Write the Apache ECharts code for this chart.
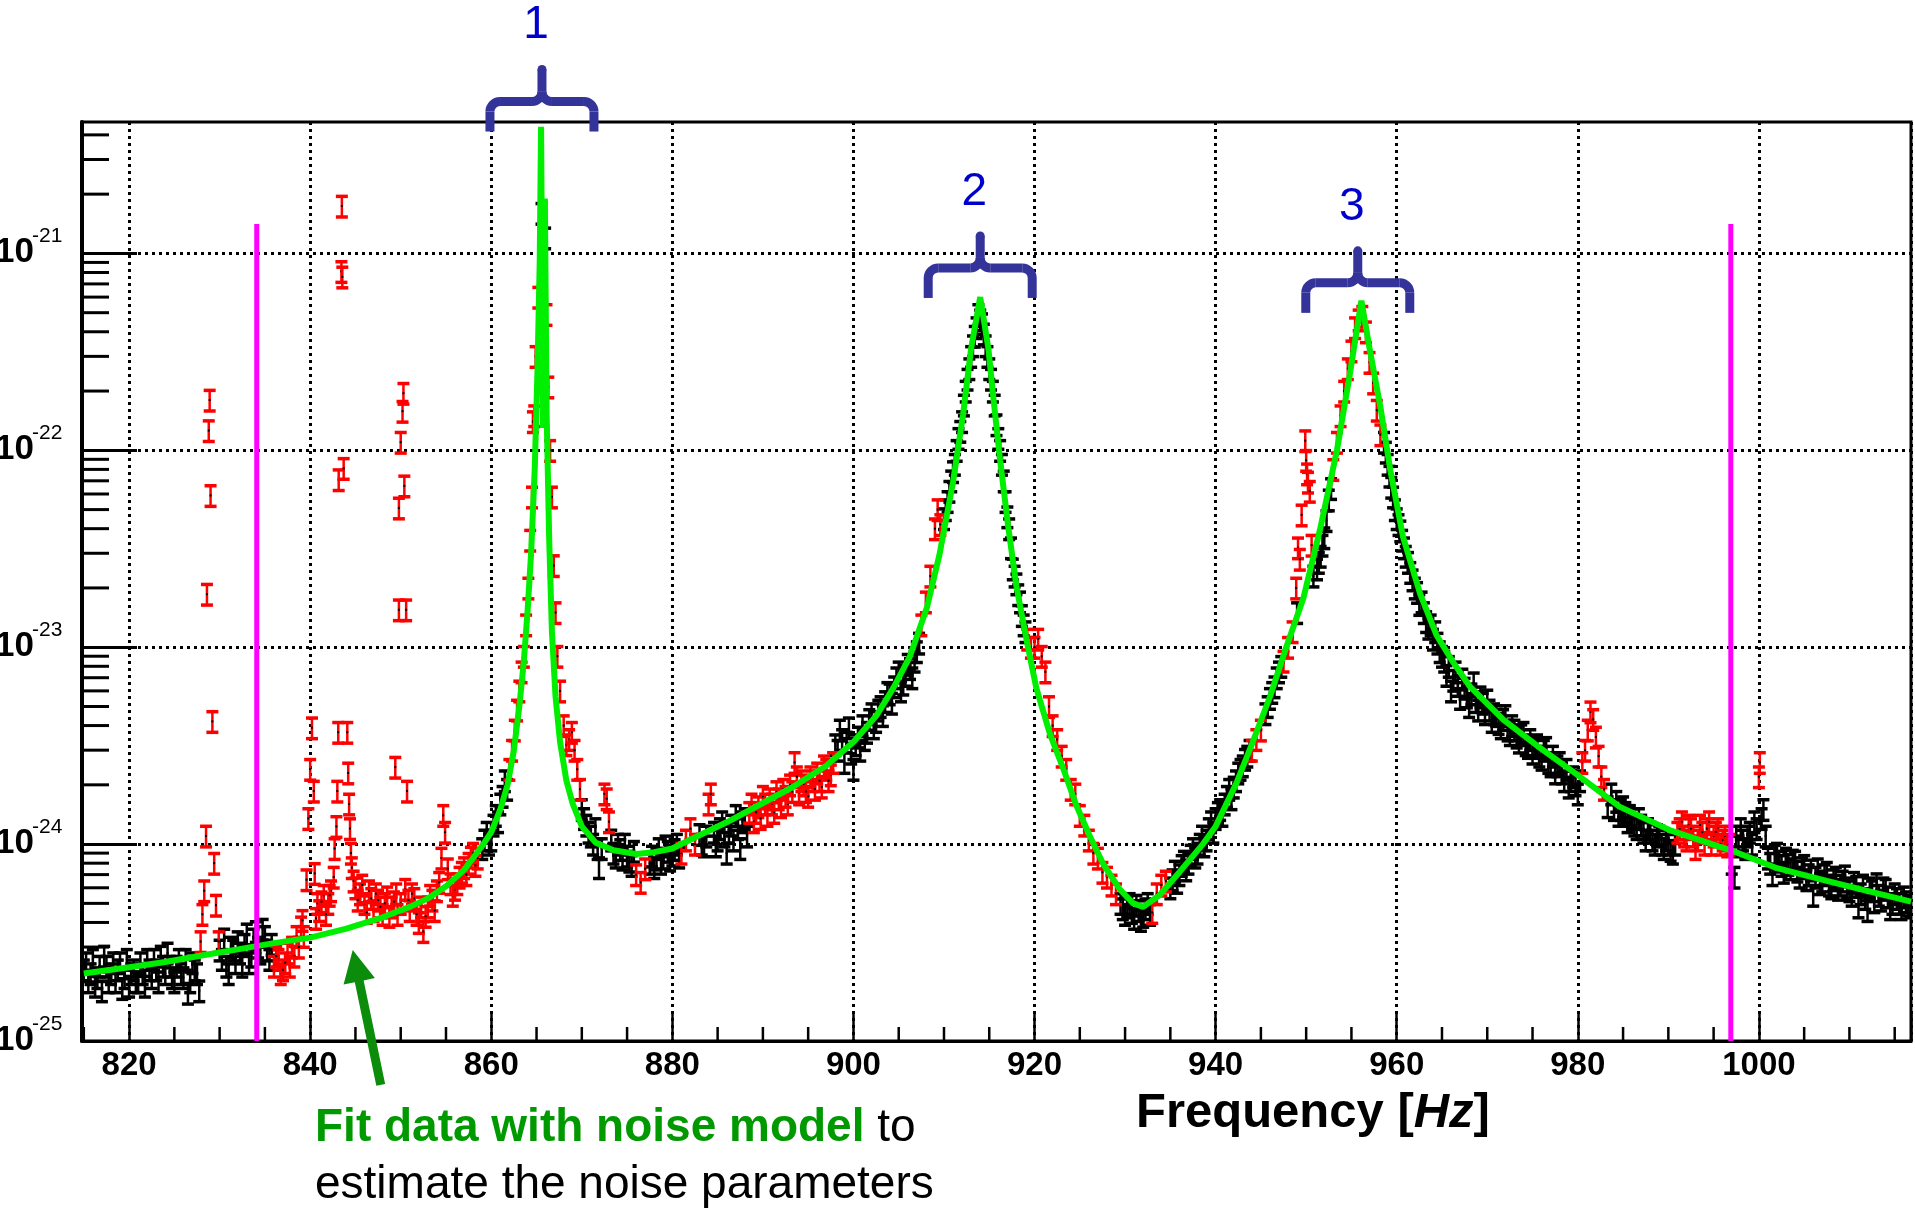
<!DOCTYPE html>
<html>
<head>
<meta charset="utf-8">
<script src="https://cdn.jsdelivr.net/npm/echarts@6/dist/echarts.min.js"></script>
<style>
html,body{margin:0;padding:0;background:#fff;}
#chart{width:1915px;height:1209px;}
</style>
</head>
<body>
<div id="chart"></div>
<script>
// ---------------- data ----------------
const xMin = 814.8, xMax = 1016.8;          // Frequency axis range [Hz]
const yMin = 1e-25, yMax = 4.65e-21;        // PSD axis range (log)
const xTickLabels = [820, 840, 860, 880, 900, 920, 940, 960, 980, 1000];
const yTickLabels = [1e-25, 1e-24, 1e-23, 1e-22, 1e-21];
const relError = 0.12;                      // relative size of the error bars

// green fitted noise model
const fitCurve = [
[815.0,2.2e-25],[818.0,2.3e-25],[820.0,2.37e-25],[824.0,2.52e-25],[828.0,2.72e-25],[832.0,2.92e-25],[836.0,3.14e-25],[840.0,3.35e-25],[844.0,3.72e-25],[848.0,4.25e-25],[851.0,4.8e-25],[853.0,5.3e-25],[855.0,6.1e-25],[857.0,7.4e-25],[858.0,8.5e-25],[859.0,9.8e-25],[860.0,1.15e-24],[861.0,1.5e-24],[861.8,2.0e-24],[862.5,3.0e-24],[863.1,5.0e-24],[863.6,8.5e-24],[864.0,1.5e-23],[864.4,3.0e-23],[864.8,8.0e-23],[865.1,2.5e-22],[865.35,9.0e-22],[865.5,4.4e-21],[865.72,1.3e-22],[865.92,1.9e-21],[866.12,1.5e-22],[866.4,3.5e-23],[866.7,1.2e-23],[867.1,5.6e-24],[867.6,3.3e-24],[868.3,2.1e-24],[869.0,1.6e-24],[870.0,1.23e-24],[871.5,1.02e-24],[873.5,9.3e-25],[876.0,8.9e-25],[878.0,9.1e-25],[880.0,9.5e-25],[882.3,1.07e-24],[886.0,1.29e-24],[889.6,1.58e-24],[893.3,1.95e-24],[897.0,2.5e-24],[900.0,3.3e-24],[902.5,4.47e-24],[904.4,6.2e-24],[906.2,8.9e-24],[908.1,1.58e-23],[909.5,2.95e-23],[911.0,6.9e-23],[912.1,1.51e-22],[913.0,3.3e-22],[914.0,6.0e-22],[914.9,3.3e-22],[915.4,1.95e-22],[916.2,8.9e-23],[917.1,4.07e-23],[918.0,2.04e-23],[919.1,1.1e-23],[920.2,6.2e-24],[921.7,3.63e-24],[923.2,2.4e-24],[924.6,1.58e-24],[926.1,1.1e-24],[927.6,7.9e-25],[929.4,5.9e-25],[930.9,5.0e-25],[932.0,4.8e-25],[933.8,5.5e-25],[936.0,7.2e-25],[938.6,1.0e-24],[940.0,1.23e-24],[942.3,2.04e-24],[944.1,3.3e-24],[946.0,5.6e-24],[947.8,1.0e-23],[949.7,1.78e-23],[951.5,3.9e-23],[953.4,1.0e-22],[954.8,2.4e-22],[956.1,5.75e-22],[957.0,3.3e-22],[958.2,1.66e-22],[959.3,7.9e-23],[960.7,3.63e-23],[962.6,1.86e-23],[964.4,1.15e-23],[966.3,8.3e-24],[968.1,6.3e-24],[971.8,4.27e-24],[975.5,3.16e-24],[980.0,2.24e-24],[984.6,1.55e-24],[990.3,1.17e-24],[996.9,9.3e-25],[1001.8,7.6e-25],[1007.5,6.5e-25],[1013.2,5.6e-25],[1016.8,5.1e-25]
];

// black data points (used in the fit)
const blackPoints = [
[815.0,2.3e-25],[815.5,2.0e-25],[816.0,2.6e-25],[816.5,2.1e-25],[817.0,1.8e-25],[817.5,2.4e-25],[818.0,2.2e-25],[818.5,2.0e-25],[819.0,2.5e-25],[819.5,2.1e-25],[820.0,1.9e-25],[820.5,2.3e-25],[821.0,2.0e-25],[821.5,2.2e-25],[822.0,2.6e-25],[822.5,2.1e-25],[823.0,2.3e-25],[823.5,2.7e-25],[824.0,2.2e-25],[824.5,2.4e-25],[825.0,2.0e-25],[825.5,2.6e-25],[826.0,2.1e-25],[826.5,1.75e-25],[827.0,2.5e-25],[827.5,2.2e-25],
[815.25,2.5e-25],[815.75,2.2e-25],[816.25,1.9e-25],[816.75,2.4e-25],[817.25,2.7e-25],[817.75,2.0e-25],[818.25,2.5e-25],[818.75,2.3e-25],[819.25,1.85e-25],[819.75,2.6e-25],[820.25,2.2e-25],[820.75,2.0e-25],[821.25,2.5e-25],[821.75,1.9e-25],[822.25,2.3e-25],[822.75,2.6e-25],[823.25,2.0e-25],[823.75,2.4e-25],[824.25,2.8e-25],[824.75,2.1e-25],[825.25,2.4e-25],[825.75,2.2e-25],[826.25,2.6e-25],[826.75,2.0e-25],[827.25,2.3e-25],[827.75,1.8e-25],
[830.0,2.9e-25],[830.5,3.3e-25],[831.0,2.2e-25],[831.5,2.9e-25],[832.0,3.2e-25],[832.5,2.4e-25],[833.0,3.5e-25],[833.5,2.7e-25],[834.0,3.6e-25],[834.5,2.8e-25],[835.0,3.4e-25],[835.5,2.6e-25],
[830.25,2.6e-25],[830.75,2.4e-25],[831.25,3.0e-25],[831.75,2.5e-25],[832.25,2.8e-25],[832.75,3.1e-25],[833.25,2.5e-25],[833.75,3.3e-25],[834.25,3.0e-25],[834.75,3.7e-25],[835.25,2.9e-25],[835.75,3.1e-25],
[859.0,9.5e-25],[859.5,1.15e-24],[860.0,1.05e-24],[860.5,1.4e-24],[861.0,1.6e-24],[861.5,2.1e-24],
[859.25,1.05e-24],[859.75,1.0e-24],[860.25,1.25e-24],[860.75,1.3e-24],[861.25,1.75e-24],[861.75,1.9e-24],
[865.55,1.6e-21],[865.95,1.2e-21],
[870.0,1.5e-24],[870.5,1.25e-24],[871.0,1.1e-24],[871.5,1.2e-24],[871.9,7.6e-25],[872.2,9.5e-25],[873.5,9.0e-25],[874.0,1.0e-24],[874.5,8.4e-25],[875.0,8.7e-25],[875.5,7.8e-25],
[870.25,1.35e-24],[870.75,1.15e-24],[871.25,1.0e-24],[871.75,9.5e-25],[873.25,1.05e-24],[873.75,8.6e-25],[874.25,9.4e-25],[874.75,1.0e-24],[875.25,8.2e-25],[875.75,9.2e-25],
[877.5,8.0e-25],[878.0,7.6e-25],[878.5,9.5e-25],[879.0,8.5e-25],[879.5,9.2e-25],[880.0,8.8e-25],[880.5,1.0e-24],
[877.75,8.7e-25],[878.25,8.4e-25],[878.75,8.0e-25],[879.25,9.8e-25],[879.75,8.3e-25],[880.25,9.4e-25],[880.75,8.6e-25],
[883.0,1.12e-24],[883.5,9.8e-25],[884.6,1.15e-24],[885.0,1.05e-24],[885.5,1.3e-24],[886.0,9.0e-25],[886.5,1.25e-24],[887.0,1.4e-24],[887.5,9.5e-25],[888.0,1.35e-24],
[883.25,1.0e-24],[883.75,1.1e-24],[884.8,9.8e-25],[885.25,1.2e-24],[885.75,1.1e-24],[886.25,1.15e-24],[886.75,1.05e-24],[887.25,1.2e-24],[887.75,1.3e-24],[888.25,1.1e-24],
[898.0,3.2e-24],[898.5,3.8e-24],[899.0,2.6e-24],[899.5,3.9e-24],[900.0,2.4e-24],[900.5,3.5e-24],[901.0,4.0e-24],[901.5,3.7e-24],[902.0,4.6e-24],[902.5,4.2e-24],[903.0,5.0e-24],[903.5,5.3e-24],[904.0,5.8e-24],[904.5,6.3e-24],[905.0,7.5e-24],[905.5,6.5e-24],[906.0,8.2e-24],[906.5,7.0e-24],[907.0,9.5e-24],
[898.25,3.0e-24],[898.75,3.4e-24],[899.25,3.3e-24],[899.75,2.9e-24],[900.25,3.2e-24],[900.75,3.0e-24],[901.25,3.4e-24],[901.75,4.3e-24],[902.25,3.9e-24],[902.75,4.8e-24],[903.25,4.5e-24],[903.75,5.9e-24],[904.25,5.2e-24],[904.75,7.0e-24],[905.25,6.0e-24],[905.75,7.2e-24],[906.25,7.8e-24],[906.75,8.5e-24],[907.25,1.05e-23],
[910.0,4.5e-23],[910.4,5.5e-23],[910.8,7.0e-23],[911.2,8.5e-23],[911.6,1.15e-22],[912.0,1.4e-22],[912.4,2.0e-22],[912.8,2.6e-22],[913.2,3.4e-22],[913.6,4.2e-22],[914.0,4.6e-22],[914.4,3.9e-22],[914.8,3.0e-22],[915.2,2.3e-22],[915.6,1.7e-22],[916.0,1.15e-22],[916.4,8.5e-23],[916.8,5.5e-23],[917.2,4.0e-23],[917.6,2.5e-23],[918.0,2.1e-23],[918.4,1.7e-23],[918.8,1.3e-23],
[910.2,5.0e-23],[910.6,6.2e-23],[911.0,7.8e-23],[911.4,1.0e-22],[911.8,1.25e-22],[912.2,1.7e-22],[912.6,2.3e-22],[913.0,3.0e-22],[913.4,3.8e-22],[913.8,4.9e-22],[914.2,4.4e-22],[914.6,3.4e-22],[915.0,2.6e-22],[915.4,2.0e-22],[915.8,1.35e-22],[916.2,1.0e-22],[916.6,7.0e-23],[917.0,4.6e-23],[917.4,3.2e-23],[917.8,2.3e-23],[918.2,1.85e-23],[918.6,1.45e-23],[919.0,1.2e-23],
[929.5,5.0e-25],[930.0,4.4e-25],[930.5,5.0e-25],[931.0,4.2e-25],[931.5,4.6e-25],[932.0,4.3e-25],[932.5,5.0e-25],
[929.75,4.7e-25],[930.25,4.8e-25],[930.75,4.5e-25],[931.25,4.9e-25],[931.75,4.1e-25],[932.25,4.7e-25],[932.75,4.4e-25],
[935.0,6.0e-25],[935.5,7.3e-25],[936.0,7.0e-25],[936.5,8.2e-25],[937.0,8.0e-25],[937.5,9.5e-25],[938.0,9.0e-25],[938.5,1.1e-24],[939.0,1.05e-24],[939.5,1.3e-24],[940.0,1.35e-24],[940.5,1.5e-24],[941.0,1.6e-24],[941.5,1.9e-24],[942.0,1.95e-24],[942.5,2.3e-24],[943.0,2.5e-24],[943.5,2.8e-24],
[935.25,6.6e-25],[935.75,6.4e-25],[936.25,7.8e-25],[936.75,7.4e-25],[937.25,8.8e-25],[937.75,8.6e-25],[938.25,1.0e-24],[938.75,9.8e-25],[939.25,1.2e-24],[939.75,1.15e-24],[940.25,1.45e-24],[940.75,1.4e-24],[941.25,1.75e-24],[941.75,1.7e-24],[942.25,2.1e-24],[942.75,2.4e-24],[943.25,2.7e-24],[943.75,3.0e-24],
[945.5,4.6e-24],[946.0,5.5e-24],[946.5,6.3e-24],[947.0,7.5e-24],
[945.75,5.0e-24],[946.25,5.9e-24],[946.75,7.0e-24],[947.25,8.0e-24],
[949.0,1.5e-23],[950.8,2.3e-23],[951.2,2.5e-23],[951.6,2.9e-23],[952.0,3.6e-23],[952.5,5.6e-23],
[951.4,2.7e-23],[951.8,3.3e-23],[952.25,4.4e-23],[952.75,6.4e-23],
[958.6,1.1e-22],[959.0,8.5e-23],[959.4,6.5e-23],[959.8,5.0e-23],[960.2,4.2e-23],[960.6,3.5e-23],[961.0,2.9e-23],[961.5,2.4e-23],[962.0,2.0e-23],[962.5,1.65e-23],[963.0,1.5e-23],[963.5,1.25e-23],[964.0,1.1e-23],[964.5,1.05e-23],[965.0,9.0e-24],[965.5,7.2e-24],[966.0,6.0e-24],[966.5,7.5e-24],[967.0,5.5e-24],[967.5,6.2e-24],[968.0,5.0e-24],[968.5,6.6e-24],[969.0,4.8e-24],[969.5,5.2e-24],[970.0,5.4e-24],[970.5,4.2e-24],[971.0,4.5e-24],[971.5,3.9e-24],[972.0,4.5e-24],[972.5,3.6e-24],[973.0,3.8e-24],[973.5,3.3e-24],[974.0,3.7e-24],[974.5,3.1e-24],[975.0,2.9e-24],[975.5,3.2e-24],[976.0,2.7e-24],[976.5,3.1e-24],[977.0,2.5e-24],[977.5,2.3e-24],[978.0,2.6e-24],[978.5,2.1e-24],[979.0,1.95e-24],[979.5,2.2e-24],[980.0,1.8e-24],
[958.8,9.8e-23],[959.2,7.4e-23],[959.6,5.8e-23],[960.0,4.5e-23],[960.4,3.9e-23],[960.8,3.2e-23],[961.25,2.7e-23],[961.75,2.2e-23],[962.25,1.9e-23],[962.75,1.7e-23],[963.25,1.35e-23],[963.75,1.3e-23],[964.25,1.2e-23],[964.75,9.5e-24],[965.25,8.5e-24],[965.75,8.0e-24],[966.25,6.8e-24],[966.75,6.4e-24],[967.25,6.9e-24],[967.75,5.6e-24],[968.25,5.8e-24],[968.75,5.3e-24],[969.25,5.6e-24],[969.75,4.6e-24],[970.25,4.8e-24],[970.75,4.6e-24],[971.25,4.1e-24],[971.75,4.3e-24],[972.25,3.8e-24],[972.75,4.0e-24],[973.25,3.5e-24],[973.75,3.6e-24],[974.25,3.2e-24],[974.75,3.4e-24],[975.25,3.1e-24],[975.75,2.8e-24],[976.25,3.0e-24],[976.75,2.6e-24],[977.25,2.8e-24],[977.75,2.5e-24],[978.25,2.3e-24],[978.75,2.4e-24],[979.25,2.1e-24],[979.75,2.0e-24],[980.25,2.1e-24],
[983.3,1.55e-24],[983.7,1.8e-24],[984.0,1.5e-24],[984.5,1.4e-24],[985.0,1.55e-24],[985.5,1.3e-24],[986.0,1.35e-24],[986.5,1.2e-24],[987.0,1.25e-24],[987.5,1.05e-24],[988.0,1.15e-24],[988.5,1.0e-24],[989.0,1.1e-24],[989.5,9.5e-25],[990.0,1.0e-24],[990.5,9.0e-25],
[984.25,1.65e-24],[984.75,1.5e-24],[985.25,1.45e-24],[985.75,1.4e-24],[986.25,1.25e-24],[986.75,1.35e-24],[987.25,1.15e-24],[987.75,1.2e-24],[988.25,1.05e-24],[988.75,1.12e-24],[989.25,1.0e-24],[989.75,1.05e-24],[990.25,9.3e-25],[990.75,1.0e-24],
[997.0,8.0e-25],[997.3,6.8e-25],[997.5,1.1e-24],[998.0,1.2e-24],[998.5,9.5e-25],[999.0,1.15e-24],[999.5,1.3e-24],[1000.5,1.5e-24],
[997.75,9.8e-25],[998.25,1.05e-24],[998.75,1.1e-24],[999.25,1.0e-24],[999.75,1.2e-24],[1000.3,1.35e-24],[1000.75,1.1e-24],
[1001.0,8.5e-25],[1001.5,7.0e-25],[1002.0,9.0e-25],[1002.5,7.8e-25],[1003.0,8.5e-25],[1003.5,7.5e-25],[1004.0,8.2e-25],[1004.5,6.8e-25],[1005.0,7.8e-25],[1005.5,7.0e-25],[1006.0,5.5e-25],[1006.5,7.5e-25],[1007.0,6.5e-25],[1007.5,7.2e-25],[1008.0,6.0e-25],[1008.5,6.8e-25],[1009.0,6.2e-25],[1009.5,6.9e-25],[1010.0,5.8e-25],[1010.5,6.4e-25],[1011.0,4.8e-25],[1011.5,6.2e-25],[1012.0,4.6e-25],[1012.5,5.8e-25],[1013.0,6.3e-25],[1013.5,5.2e-25],[1014.0,5.9e-25],[1014.5,4.7e-25],[1015.0,5.6e-25],[1015.5,5.0e-25],[1016.0,5.4e-25],[1016.5,4.9e-25],
[1001.25,8.0e-25],[1001.75,8.8e-25],[1002.25,8.2e-25],[1002.75,7.2e-25],[1003.25,7.9e-25],[1003.75,8.3e-25],[1004.25,7.3e-25],[1004.75,7.6e-25],[1005.25,6.6e-25],[1005.75,7.4e-25],[1006.25,6.8e-25],[1006.75,6.3e-25],[1007.25,7.0e-25],[1007.75,6.2e-25],[1008.25,6.6e-25],[1008.75,5.9e-25],[1009.25,6.5e-25],[1009.75,6.0e-25],[1010.25,5.5e-25],[1010.75,6.1e-25],[1011.25,5.6e-25],[1011.75,5.3e-25],[1012.25,6.0e-25],[1012.75,5.1e-25],[1013.25,5.5e-25],[1013.75,6.0e-25],[1014.25,5.4e-25],[1014.75,5.0e-25],[1015.25,5.3e-25],[1015.75,4.7e-25],[1016.25,5.1e-25],[1016.75,4.8e-25]
];

// red data points (excluded from the fit)
const redPoints = [
[827.9,3.2e-25],[828.1,4.4e-25],[828.3,5.8e-25],[828.5,1.1e-24],[828.6,1.86e-23],[828.8,1.26e-22],[828.9,1.8e-22],[829.0,5.9e-23],[829.2,4.2e-24],[829.4,8.0e-25],[829.6,4.9e-25],[829.9,3.2e-25],
[836.0,2.4e-25],[836.5,2.6e-25],[837.0,2.3e-25],[837.5,2.8e-25],[838.0,3.0e-25],[838.5,3.4e-25],[839.0,3.8e-25],[839.3,3.4e-25],[839.6,6.6e-25],[839.8,1.35e-24],[840.0,2.4e-24],[840.2,3.9e-24],[840.4,1.86e-24],[840.5,7.1e-25],[840.8,5.0e-25],[841.0,4.6e-25],[841.5,5.5e-25],[842.0,5.0e-25],[842.3,5.8e-25],[842.6,6.8e-25],[842.7,9.5e-25],[842.9,1.23e-24],[843.0,1.86e-24],[843.1,3.7e-24],[843.15,7.1e-23],[843.45,8.1e-22],[843.5,1.74e-21],[843.55,7.6e-22],[843.7,8.1e-23],[844.1,3.7e-24],[844.2,2.3e-24],[844.3,1.6e-24],[844.4,1.2e-24],[844.5,9.0e-25],[844.6,7.6e-25],[844.8,6.5e-25],
[836.25,2.7e-25],[836.75,2.2e-25],[837.25,2.5e-25],[837.75,2.4e-25],[838.25,2.7e-25],[838.75,3.0e-25],[839.15,4.1e-25],[840.65,4.2e-25],[841.25,5.1e-25],[841.75,4.4e-25],[842.15,5.5e-25],
[845.0,6.0e-25],[845.5,5.6e-25],[846.0,5.0e-25],[846.5,5.8e-25],[847.0,4.6e-25],[847.5,5.2e-25],[848.0,4.4e-25],[848.5,5.4e-25],[849.0,4.8e-25],[849.4,2.46e-24],[849.5,5.6e-25],[849.8,5.1e-23],[849.8,1.55e-23],[850.0,1.1e-22],[850.0,5.0e-25],[850.2,1.58e-22],[850.3,1.95e-22],[850.4,6.6e-23],[850.5,5.9e-25],[850.6,1.55e-23],[850.7,1.86e-24],[851.0,4.6e-25],[851.5,5.3e-25],[852.0,4.0e-25],[852.5,3.6e-25],[853.0,4.8e-25],[853.5,5.2e-25],[854.0,5.8e-25],[854.5,8.5e-25],[854.7,1.4e-24],[854.9,1.15e-24],[855.2,7.5e-25],[855.5,6.3e-25],[856.0,5.9e-25],[856.5,6.8e-25],[857.0,7.6e-25],[857.5,8.0e-25],[858.0,9.0e-25],[858.5,8.5e-25],
[845.25,5.2e-25],[845.75,6.2e-25],[846.25,4.5e-25],[846.75,5.3e-25],[847.25,5.6e-25],[847.75,4.8e-25],[848.25,5.0e-25],[848.75,4.3e-25],[849.25,5.1e-25],[849.65,4.4e-25],[850.85,5.2e-25],[851.25,5.6e-25],[851.75,4.4e-25],[852.25,4.8e-25],[852.75,4.3e-25],[853.25,5.5e-25],[853.75,4.6e-25],[854.25,6.4e-25],[855.75,5.5e-25],[856.25,6.3e-25],[856.75,7.2e-25],[857.25,7.0e-25],[857.75,8.6e-25],[858.25,7.8e-25],
[862.0,2.4e-24],[862.3,3.0e-24],[862.6,3.8e-24],[862.85,4.8e-24],[863.1,6.0e-24],[863.35,7.5e-24],[863.6,9.0e-24],[863.85,1.3e-23],[864.1,2.0e-23],[864.3,3.5e-23],[864.5,5.8e-23],[864.6,1.4e-22],[864.75,1.5e-22],[864.9,3.0e-22],[865.2,6.0e-22],
[866.1,4.9e-22],[866.3,2.1e-22],[866.5,1.0e-22],[866.7,5.8e-23],[866.9,2.6e-23],[867.1,1.5e-23],[867.3,9.0e-24],[867.6,6.0e-24],[868.0,4.0e-24],[868.3,3.2e-24],[868.6,3.4e-24],[868.9,3.7e-24],[869.2,3.0e-24],[869.5,2.4e-24],[869.8,1.9e-24],
[872.5,1.8e-24],[872.75,1.7e-24],[873.0,1.3e-24],
[876.0,7.0e-25],[876.5,6.4e-25],[877.0,7.5e-25],
[881.0,9.0e-25],[881.5,1.05e-24],[882.0,1.2e-24],[882.5,1.0e-24],
[884.0,1.6e-24],[884.25,1.8e-24],
[888.5,1.45e-24],[889.0,1.3e-24],[889.5,1.55e-24],[890.0,1.75e-24],[890.5,1.4e-24],[891.0,1.6e-24],[891.5,1.85e-24],[892.0,1.55e-24],[892.5,1.75e-24],[893.0,2.0e-24],[893.5,2.6e-24],[894.0,1.8e-24],[894.5,2.0e-24],[895.0,1.75e-24],[895.5,2.1e-24],[896.0,2.3e-24],[896.5,1.95e-24],[897.0,2.4e-24],[897.5,2.25e-24],
[888.75,1.6e-24],[889.25,1.45e-24],[889.75,1.35e-24],[890.25,1.6e-24],[890.75,1.7e-24],[891.25,1.45e-24],[891.75,1.7e-24],[892.25,1.9e-24],[892.75,1.6e-24],[893.25,1.85e-24],[893.75,2.2e-24],[894.25,2.1e-24],[894.75,1.85e-24],[895.25,2.2e-24],[895.75,1.9e-24],[896.25,2.1e-24],[896.75,2.5e-24],[897.25,2.1e-24],[897.75,2.6e-24],
[907.5,1.3e-23],[908.0,1.7e-23],[908.5,2.3e-23],[909.0,4.0e-23],[909.3,5.0e-23],[909.6,4.2e-23],
[919.2,1.1e-23],[919.6,1.0e-23],[920.0,1.0e-23],[920.4,1.1e-23],[920.8,9.0e-24],[921.2,7.5e-24],[921.6,5.0e-24],[922.0,4.0e-24],[922.5,3.4e-24],[923.0,2.8e-24],[923.5,2.4e-24],[924.0,1.9e-24],[924.5,1.8e-24],[925.0,1.4e-24],[925.5,1.25e-24],[926.0,1.05e-24],[926.5,9.0e-25],[927.0,8.5e-25],[927.5,7.2e-25],[928.0,6.8e-25],[928.5,6.2e-25],[929.0,5.6e-25],
[933.0,4.5e-25],[933.5,5.6e-25],[934.0,6.2e-25],[934.5,6.5e-25],
[944.0,3.0e-24],[944.5,3.4e-24],[945.0,3.8e-24],
[947.5,8.5e-24],[948.0,1.0e-23],[948.5,1.2e-23],
[948.9,2.0e-23],[949.1,3.2e-23],[949.3,2.8e-23],[949.5,4.7e-23],[949.9,1.12e-22],[950.0,8.9e-23],[950.1,7.6e-23],[950.2,6.9e-23],[950.4,6.2e-23],[950.6,3.3e-23],
[953.0,8.0e-23],[953.4,1.1e-22],[953.8,1.5e-22],[954.2,2.0e-22],[954.6,2.6e-22],[955.0,3.2e-22],[955.4,4.2e-22],[955.8,4.6e-22],[956.2,4.8e-22],[956.6,4.0e-22],[957.0,2.8e-22],[957.4,2.2e-22],[957.8,1.6e-22],[958.2,1.2e-22],
[980.5,2.6e-24],[980.8,3.0e-24],[981.1,3.8e-24],[981.4,4.7e-24],[981.7,4.3e-24],[982.0,3.5e-24],[982.3,2.8e-24],[982.6,2.2e-24],[982.9,1.9e-24],
[991.0,1.15e-24],[991.5,1.3e-24],[992.0,1.05e-24],[992.5,1.2e-24],[993.0,9.5e-25],[993.5,1.25e-24],[994.0,1.0e-24],[994.5,1.3e-24],[995.0,1.1e-24],[995.5,1.2e-24],[996.0,1.05e-24],[996.5,9.8e-25],
[991.25,1.2e-24],[991.75,1.1e-24],[992.25,1.25e-24],[992.75,1.1e-24],[993.25,1.05e-24],[993.75,1.15e-24],[994.25,1.2e-24],[994.75,1.0e-24],[995.25,1.15e-24],[995.75,1.0e-24],[996.25,1.1e-24],[996.75,1.0e-24],
[1000.0,2.2e-24],[1000.1,2.6e-24]
];

// magenta vertical lines: analysis band limits
const bandLimits = [834.1, 996.9];
const bandLineTop = 1.41e-21;

// numbered braces above the three resonances
const peakFreqs = [865.6, 914.0, 955.7];
const braceLevels = [4.16e-21, 5.94e-22, 4.99e-22];
const peakLabels = ['1', '2', '3'];

// arrow tip (points at the fit curve)
const arrowTip = [844.7, 2.9e-25];

// ---------------- chart ----------------
const FONT = "'Liberation Sans', Arial, Helvetica, sans-serif";
const chart = echarts.init(document.getElementById('chart'), null, {renderer: 'canvas'});

const xMinorTicks = [];
for (let f = 815; f <= xMax; f += 5) { if (f % 20 !== 0) xMinorTicks.push([f, yMin]); }
const yMinorTicks = [];
for (let k = -25; k <= -21; k++) {
  for (let m = 2; m <= 9; m++) { const v = m * Math.pow(10, k); if (v < yMax) yMinorTicks.push([xMin, v]); }
}

function errorBars(color) {
  return function (params, api) {
    const f = api.value(0), v = api.value(1);
    const c = api.coord([f, v]);
    const t = api.coord([f, v * (1 + relError)]);
    const b = api.coord([f, v * (1 - relError)]);
    const hw = 6;
    return {
      type: 'group',
      children: [
        {type: 'line', shape: {x1: c[0], y1: t[1], x2: c[0], y2: b[1]}, style: {stroke: color, lineWidth: 2.5}},
        {type: 'line', shape: {x1: c[0] - hw, y1: t[1], x2: c[0] + hw, y2: t[1]}, style: {stroke: color, lineWidth: 3.5}},
        {type: 'line', shape: {x1: c[0] - hw, y1: b[1], x2: c[0] + hw, y2: b[1]}, style: {stroke: color, lineWidth: 3.5}},
        {type: 'rect', shape: {x: c[0] - 1, y: c[1] - 1, width: 2, height: 2}, style: {fill: '#000'}}
      ]
    };
  };
}

function braceRenderer(params, api) {
  const c = api.coord([api.value(0), api.value(1)]);
  const i = api.value(2);
  const x = c[0], y = c[1];
  const w = 52, r = 10, col = '#333399', lw = 9;
  const st = {stroke: col, lineWidth: lw, fill: null};
  return {
    type: 'group',
    children: [
      {type: 'line', shape: {x1: x - w, y1: y, x2: x - w, y2: y - 20}, style: st},
      {type: 'arc', shape: {cx: x - w + r, cy: y - 20, r: r, startAngle: Math.PI, endAngle: Math.PI * 1.5, clockwise: true}, style: st},
      {type: 'line', shape: {x1: x - w + r, y1: y - 30, x2: x - r, y2: y - 30}, style: st},
      {type: 'arc', shape: {cx: x - r, cy: y - 40, r: r, startAngle: Math.PI / 2, endAngle: 0, clockwise: false}, style: st},
      {type: 'line', shape: {x1: x + w, y1: y, x2: x + w, y2: y - 20}, style: st},
      {type: 'arc', shape: {cx: x + w - r, cy: y - 20, r: r, startAngle: -Math.PI / 2, endAngle: 0, clockwise: true}, style: st},
      {type: 'line', shape: {x1: x + r, y1: y - 30, x2: x + w - r, y2: y - 30}, style: st},
      {type: 'arc', shape: {cx: x + r, cy: y - 40, r: r, startAngle: Math.PI / 2, endAngle: Math.PI, clockwise: true}, style: st},
      {type: 'line', shape: {x1: x, y1: y - 40, x2: x, y2: y - 62}, style: st},
      {type: 'circle', shape: {cx: x, cy: y - 62, r: 4.5}, style: {fill: col}},
      {type: 'text', style: {text: peakLabels[i], x: x - 6, y: y - 106, fill: '#0000cc', font: '46px ' + FONT, align: 'center', verticalAlign: 'middle'}}
    ]
  };
}

function yLabelRenderer(params, api) {
  const v = api.value(1);
  const c = api.coord([api.value(0), v]);
  const e = Math.round(Math.log10(v));
  return {
    type: 'group',
    children: [
      {type: 'text', style: {text: '10', x: c[0] - 48, y: c[1] - 1, font: 'bold 35px ' + FONT, fill: '#000', align: 'right', verticalAlign: 'middle'}},
      {type: 'text', style: {text: String(e), x: c[0] - 50, y: c[1] - 17, font: '21px ' + FONT, fill: '#000', align: 'left', verticalAlign: 'middle'}}
    ]
  };
}

const dotted = {color: '#000', width: 3, type: [3, 4]};

const option = {
  animation: false,
  backgroundColor: '#fff',
  grid: {left: 82, right: 4, top: 122, bottom: 168, show: true, borderColor: '#000', borderWidth: 3,
         backgroundColor: '#fff', containLabel: false, outerBoundsMode: 'none'},
  xAxis: {
    type: 'value', min: xMin, max: xMax, splitNumber: 10,
    axisLine: {show: true, onZero: false, lineStyle: {color: '#000', width: 3}},
    axisTick: {show: true, inside: true, length: 28, lineStyle: {color: '#000', width: 2.5}},
    axisLabel: {
      formatter: function (v) {
        for (const t of xTickLabels) { if (Math.abs(v - t) < 1e-6) return String(t); }
        return '';
      },
      fontSize: 33, fontWeight: 'bold', color: '#000', fontFamily: FONT, margin: 8
    },
    splitLine: {show: true, lineStyle: dotted}
  },
  yAxis: {
    type: 'log', logBase: 10, min: yMin, max: yMax,
    axisLine: {show: true, lineStyle: {color: '#000', width: 4}},
    axisTick: {show: true, inside: true, length: 55, lineStyle: {color: '#000', width: 3}},
    axisLabel: {show: false},
    splitLine: {show: true, lineStyle: dotted}
  },
  series: [
    {type: 'custom', name: 'data', renderItem: errorBars('#000'), data: blackPoints,
     dimensions: ['x', 'y'], encode: {x: 0, y: 1}, clip: true, z: 2, silent: true},
    {type: 'custom', name: 'excluded', renderItem: errorBars('#ff0000'), data: redPoints,
     dimensions: ['x', 'y'], encode: {x: 0, y: 1}, clip: true, z: 3, silent: true},
    {type: 'line', name: 'fit', data: fitCurve, showSymbol: false, symbol: 'none', clip: true,
     lineStyle: {color: '#00ee00', width: 6}, z: 4, silent: true},
    ...bandLimits.map(f => ({
      type: 'line', data: [[f, yMin], [f, bandLineTop]], showSymbol: false, symbol: 'none',
      lineStyle: {color: '#ff00ff', width: 5}, z: 6, silent: true
    })),
    {type: 'custom', name: 'xminor', data: xMinorTicks, dimensions: ['x', 'y'], encode: {x: 0, y: 1}, clip: false, z: 7, silent: true,
     renderItem: function (p, api) {
       const c = api.coord([api.value(0), api.value(1)]);
       return {type: 'line', shape: {x1: c[0], y1: c[1], x2: c[0], y2: c[1] - 14}, style: {stroke: '#000', lineWidth: 2.5}};
     }},
    {type: 'custom', name: 'yminor', data: yMinorTicks, dimensions: ['x', 'y'], encode: {x: 0, y: 1}, clip: false, z: 7, silent: true,
     renderItem: function (p, api) {
       const c = api.coord([api.value(0), api.value(1)]);
       return {type: 'line', shape: {x1: c[0], y1: c[1], x2: c[0] + 27, y2: c[1]}, style: {stroke: '#000', lineWidth: 3}};
     }},
    {type: 'custom', name: 'ylabels', data: yTickLabels.map(v => [xMin, v]), dimensions: ['x', 'y'], encode: {x: 0, y: 1},
     clip: false, z: 7, silent: true, renderItem: yLabelRenderer},
    {type: 'custom', name: 'braces', data: peakFreqs.map((f, i) => [f, braceLevels[i], i]),
     dimensions: ['x', 'y', 'i'], encode: {x: 0, y: 1}, clip: false, z: 8, silent: true,
     renderItem: braceRenderer}
  ]
};
chart.setOption(option);

// annotations: arrow and texts
const tip = chart.convertToPixel({gridIndex: 0}, arrowTip);
const tail = [tip[0] + 28, tip[1] + 135];
const dx = tip[0] - tail[0], dy = tip[1] - tail[1];
const len = Math.sqrt(dx * dx + dy * dy);
const ux = dx / len, uy = dy / len, nx = -uy, ny = ux;
const headL = 32, headW = 16, shaftW = 4.5;
const bx = tip[0] - ux * headL, by = tip[1] - uy * headL;
const arrowPts = [
  [tip[0], tip[1]],
  [bx + nx * headW, by + ny * headW],
  [bx + nx * shaftW, by + ny * shaftW],
  [tail[0] + nx * shaftW, tail[1] + ny * shaftW],
  [tail[0] - nx * shaftW, tail[1] - ny * shaftW],
  [bx - nx * shaftW, by - ny * shaftW],
  [bx - nx * headW, by - ny * headW]
];

chart.setOption({
  graphic: [
    {type: 'polygon', shape: {points: arrowPts}, style: {fill: '#0b8c0b'}, z: 100, silent: true},
    {type: 'text', x: 315, y: 1128, z: 100, silent: true,
     style: {text: '{g|Fit data with noise model}{k| to}', verticalAlign: 'middle', align: 'left',
       rich: {g: {fill: '#009a00', fontWeight: 'bold', fontSize: 46, fontFamily: FONT},
              k: {fill: '#000', fontSize: 46, fontFamily: FONT}}}},
    {type: 'text', x: 315, y: 1185, z: 100, silent: true,
     style: {text: 'estimate the noise parameters', fill: '#000', font: '46px ' + FONT, verticalAlign: 'middle', align: 'left'}},
    {type: 'text', x: 1136, y: 1113, z: 100, silent: true,
     style: {text: '{a|Frequency [}{i|Hz}{a|]}', verticalAlign: 'middle', align: 'left',
       rich: {a: {fill: '#000', fontWeight: 'bold', fontSize: 49, fontFamily: FONT},
              i: {fill: '#000', fontWeight: 'bold', fontStyle: 'italic', fontSize: 49, fontFamily: FONT}}}}
  ]
});
</script>
</body>
</html>
